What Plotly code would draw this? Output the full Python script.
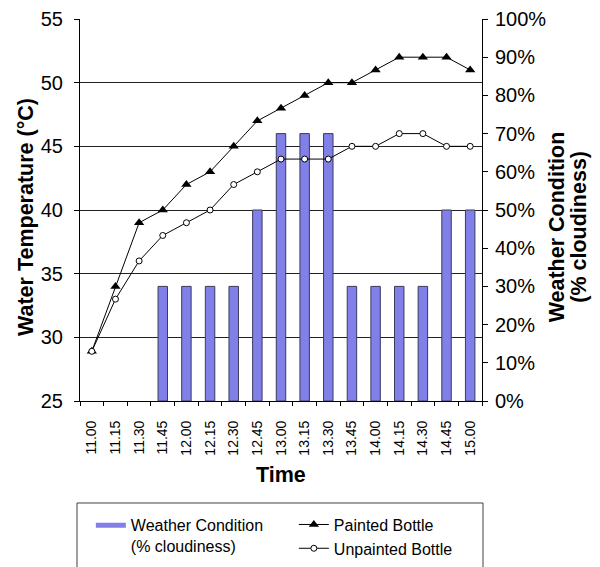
import plotly.graph_objects as go

# Sampling times (15-minute intervals)
times = ["11.00", "11.15", "11.30", "11.45", "12.00", "12.15", "12.30", "12.45",
         "13.00", "13.15", "13.30", "13.45", "14.00", "14.15", "14.30", "14.45", "15.00"]

# Water temperature (°C)
painted = [28.9, 34, 39, 40, 42, 43, 45, 47, 48, 49, 50, 50, 51, 52, 52, 52, 51]
unpainted = [28.9, 33, 36, 38, 39, 40, 42, 43, 44, 44, 44, 45, 45, 46, 46, 45, 45]

# Weather condition (fraction of sky clouded)
cloudiness = [0, 0, 0, 0.30, 0.30, 0.30, 0.30, 0.50, 0.70, 0.70, 0.70,
              0.30, 0.30, 0.30, 0.30, 0.50, 0.50]

FONT = "Liberation Sans, Arial, Helvetica, sans-serif"
BAR_FILL = "#8080E8"
BAR_EDGE = "#3A3A5C"
bar_name = "Weather Condition<br>(% cloudiness)"
TITLE_SIZE = 21.5

fig = go.Figure()

# cloudiness bars on the primary axis (shown on the right) so lines sit on top;
# clear-sky readings get no outline so nothing is drawn for them
fig.add_trace(go.Bar(
    x=times, y=cloudiness, yaxis="y", width=0.4,
    marker=dict(color=BAR_FILL,
                line=dict(color=BAR_EDGE, width=[1 if c > 0 else 0 for c in cloudiness])),
    name=bar_name, showlegend=False, legendgroup="cloud",
))
# legend key for the bars: a wide flat swatch
fig.add_trace(go.Scatter(
    x=[times[0]], y=[None], mode="lines", yaxis="y",
    line=dict(color=BAR_FILL, width=5),
    name=bar_name, legend="legend", legendgroup="cloud",
))

fig.add_trace(go.Scatter(
    x=times, y=painted, yaxis="y2", mode="lines+markers",
    line=dict(color="black", width=1),
    marker=dict(symbol="triangle-up", size=9, color="black"),
    name="Painted Bottle", legend="legend2",
))
fig.add_trace(go.Scatter(
    x=times, y=unpainted, yaxis="y2", mode="lines+markers",
    line=dict(color="black", width=1),
    marker=dict(symbol="circle", size=6, color="white",
                line=dict(color="black", width=1)),
    name="Unpainted Bottle", legend="legend2",
))

fig.update_layout(
    width=600, height=567,
    margin=dict(l=80, r=118, t=19, b=166, autoexpand=False),
    paper_bgcolor="white", plot_bgcolor="white",
    font=dict(family=FONT, color="black"),
    xaxis=dict(
        type="category", categoryorder="array", categoryarray=times,
        range=[-0.5, len(times) - 0.5],
        tickangle=-90, tickson="boundaries",
        ticks="outside", ticklen=4, tickcolor="black",
        showline=True, linecolor="black", linewidth=1,
        showgrid=False, tickfont=dict(size=14),
        ticklabelstandoff=13,
    ),
    yaxis=dict(
        side="right", range=[0, 1], dtick=0.1, tickformat=".0%",
        ticks="outside", ticklen=5, tickcolor="black",
        showline=True, linecolor="black", linewidth=1,
        showgrid=False, zeroline=False, tickfont=dict(size=20),
        ticklabelstandoff=3,
    ),
    yaxis2=dict(
        side="left", overlaying="y", range=[25, 55], dtick=5,
        ticks="outside", ticklen=5, tickcolor="black",
        showline=True, linecolor="black", linewidth=1,
        showgrid=True, gridcolor="#222222", gridwidth=1,
        zeroline=False, tickfont=dict(size=20),
        ticklabelstandoff=7,
    ),
    legend=dict(
        x=0.027, y=-0.281, xanchor="left", yanchor="top", valign="top",
        font=dict(size=16), bgcolor="rgba(0,0,0,0)", itemwidth=30,
    ),
    legend2=dict(
        x=0.532, y=-0.279, xanchor="left", yanchor="top",
        font=dict(size=16), bgcolor="rgba(0,0,0,0)", itemwidth=30,
        tracegroupgap=0,
    ),
    annotations=[
        dict(text="<b>Water Temperature (°C)</b>", xref="paper", yref="paper",
             x=-0.134, y=0.482, textangle=-90, showarrow=False,
             xanchor="center", yanchor="middle", font=dict(size=TITLE_SIZE)),
        dict(text="<b>Weather Condition</b>", xref="paper", yref="paper",
             x=1.187, y=0.455, textangle=-90, showarrow=False,
             xanchor="center", yanchor="middle", font=dict(size=TITLE_SIZE)),
        dict(text="<b>(% cloudiness)</b>", xref="paper", yref="paper",
             x=1.242, y=0.457, textangle=-90, showarrow=False,
             xanchor="center", yanchor="middle", font=dict(size=TITLE_SIZE)),
        dict(text="<b>Time</b>", xref="paper", yref="paper",
             x=0.5, y=-0.195, showarrow=False,
             xanchor="center", yanchor="middle", font=dict(size=TITLE_SIZE)),
    ],
    shapes=[
        # frame around both legends
        dict(type="rect", xref="paper", yref="paper",
             x0=-0.0075, x1=1.0025, y0=-0.45, y1=-0.267,
             line=dict(color="#404040", width=1), fillcolor="rgba(0,0,0,0)"),
    ],
)

fig.write_html("out.html")
